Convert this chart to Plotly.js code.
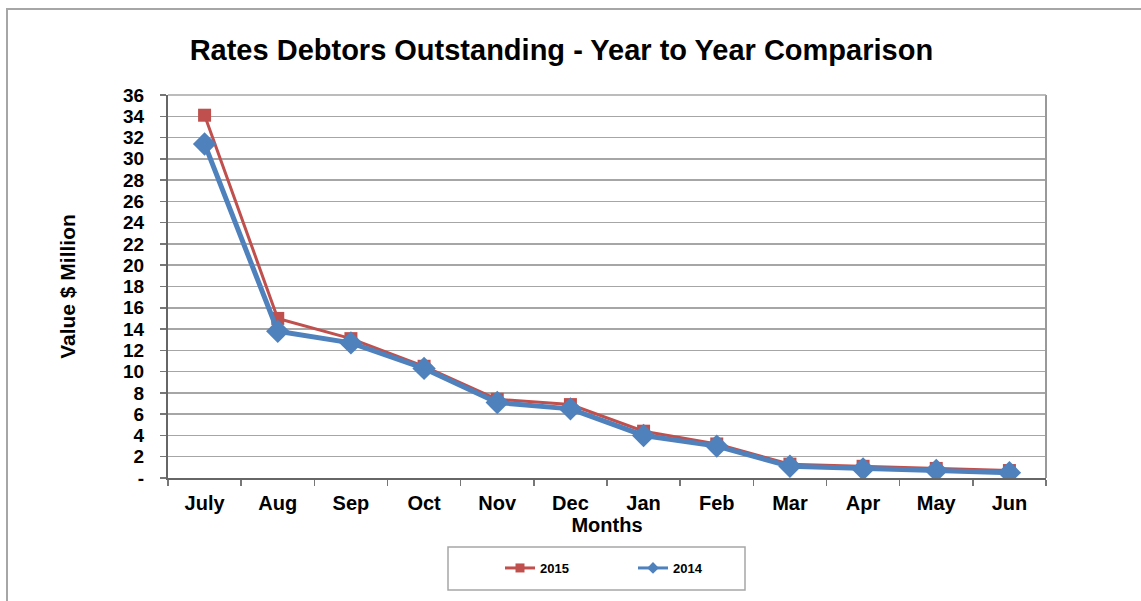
<!DOCTYPE html>
<html>
<head>
<meta charset="utf-8">
<script src="https://cdn.plot.ly/plotly-3.0.1.min.js"></script>
<style>
  html, body { margin: 0; padding: 0; background: #fff; }
  #frame { position: absolute; left: 6px; top: 8px; width: 1200px; height: 700px;
           border-top: 2px solid #a6a6a6; border-left: 2px solid #a6a6a6; pointer-events: none; }
  #chart { width: 1141px; height: 601px; }
</style>
</head>
<body>
<div id="chart"></div>
<div id="frame"></div>
<script>
const months = ['July','Aug','Sep','Oct','Nov','Dec','Jan','Feb','Mar','Apr','May','Jun'];
const values2015 = [34.1, 15.0, 13.1, 10.5, 7.4, 6.9, 4.4, 3.2, 1.3, 1.1, 0.9, 0.7];
const values2014 = [31.4, 13.8, 12.7, 10.3, 7.1, 6.5, 4.0, 3.0, 1.1, 0.85, 0.7, 0.5];
const yTickVals = [0,2,4,6,8,10,12,14,16,18,20,22,24,26,28,30,32,34,36];
const yTickText = ['-','2','4','6','8','10','12','14','16','18','20','22','24','26','28','30','32','34','36'];

const font = 'Liberation Sans, Arial, sans-serif';
const red = '#C0504D', blue = '#4F81BD';

const traces = [
  {
    x: months, y: values2015, name: '2015', type: 'scatter', mode: 'lines+markers', showlegend: false,
    line: { color: red, width: 3 },
    marker: { symbol: 'square', size: 13, color: red }
  },
  {
    x: months, y: values2014, name: '2014', type: 'scatter', mode: 'lines+markers', showlegend: false,
    line: { color: blue, width: 5 },
    marker: { symbol: 'diamond', size: 18, color: blue }
  },
  // legend entries (no data points)
  {
    x: [null], y: [null], name: '2015', type: 'scatter', mode: 'lines+markers',
    line: { color: red, width: 3 }, marker: { symbol: 'square', size: 9, color: red }
  },
  {
    x: [null], y: [null], name: '2014', type: 'scatter', mode: 'lines+markers',
    line: { color: blue, width: 3 }, marker: { symbol: 'diamond', size: 9, color: blue }
  }
];

const layout = {
  width: 1141, height: 601,
  margin: { l: 168, r: 95, t: 95, b: 123 },
  paper_bgcolor: '#fff', plot_bgcolor: '#fff',
  font: { family: font, color: '#000' },
  title: {
    text: '<b>Rates Debtors Outstanding - Year to Year Comparison</b>',
    font: { family: font, size: 29, color: '#000' },
    x: 0.492, xanchor: 'center', y: 0.917, yanchor: 'middle'
  },
  xaxis: {
    type: 'category',
    tickson: 'boundaries',
    ticks: 'outside', ticklen: 6, tickcolor: '#777', tickwidth: 1.5,
    showline: true, linecolor: '#666', linewidth: 2, mirror: false,
    showgrid: false,
    tickfont: { family: font, size: 20, color: '#000', weight: 'bold' },
    ticklabelstandoff: 6,
    title: { text: '<b>Months</b>', font: { family: font, size: 20, color: '#000' }, standoff: 0 },
    range: [-0.5, 11.5]
  },
  yaxis: {
    range: [0, 36],
    tickvals: yTickVals, ticktext: yTickText,
    ticks: 'outside', ticklen: 6, tickcolor: '#777', tickwidth: 1.5,
    showline: true, linecolor: '#666', linewidth: 2,
    showgrid: true, gridcolor: '#a6a6a6', gridwidth: 1.5,
    zeroline: false,
    tickfont: { family: font, size: 19, color: '#000', weight: 'bold' },
    ticklabelstandoff: 12,
    title: { text: '<b>Value $ Million</b>', font: { family: font, size: 21, color: '#000' }, standoff: 42 }
  },
  shapes: [
    { type: 'line', xref: 'paper', yref: 'paper', x0: 1, x1: 1, y0: 0, y1: 1, line: { color: '#999', width: 2 } },
    { type: 'line', xref: 'paper', yref: 'paper', x0: 0, x1: 1, y0: 1, y1: 1, line: { color: '#a6a6a6', width: 1.5 } },
    { type: 'rect', xref: 'paper', yref: 'paper',
      x0: (448-168)/878, x1: (745-168)/878, y0: (478-590)/383, y1: (478-547)/383,
      line: { color: '#a6a6a6', width: 1.5 }, fillcolor: 'rgba(0,0,0,0)' }
  ],
  showlegend: true,
  legend: {
    orientation: 'h',
    x: (500-168)/878, xanchor: 'left',
    y: (478-568)/383, yanchor: 'middle',
    bgcolor: 'rgba(0,0,0,0)', borderwidth: 0,
    entrywidth: 88, entrywidthmode: 'pixels',
    font: { family: font, size: 13, color: '#000', weight: 'bold' }
  }
};

Plotly.newPlot('chart', traces, layout, { displayModeBar: false, staticPlot: true });
</script>
</body>
</html>
